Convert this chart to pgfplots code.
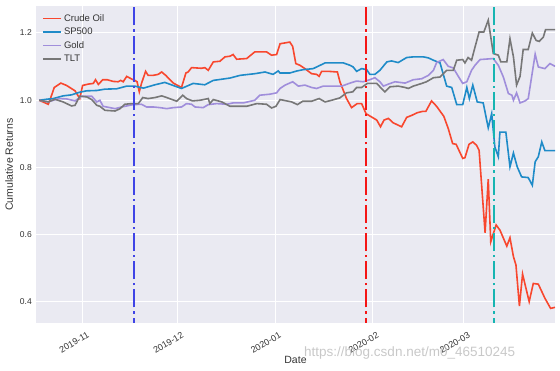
\documentclass[border=0pt]{standalone}
\usepackage{pgfplots}
\pgfplotsset{compat=1.18}
\usepackage{fontspec}
\setmainfont{Liberation Sans}
\definecolor{bgc}{HTML}{EAEAF2}
\definecolor{oilc}{HTML}{F8472E}
\definecolor{spc}{HTML}{1F8BC8}
\definecolor{goldc}{HTML}{A08EDB}
\definecolor{tltc}{HTML}{777777}
\definecolor{txtc}{HTML}{333333}
\definecolor{vblue}{HTML}{3F44E6}
\definecolor{vred}{HTML}{F51515}
\definecolor{vteal}{HTML}{17B5B2}
\begin{document}
\begin{tikzpicture}
\useasboundingbox (0,0) rectangle (560pt,371pt);
\begin{axis}[
  at={(36pt,48pt)}, anchor=south west,
  width=519pt, height=317pt, scale only axis,
  xmin=-14.9, xmax=149.9, ymin=0.3375, ymax=1.2803,
  axis background/.style={fill=bgc},
  axis line style={draw=none},
  tick style={draw=none},
  grid=major,
  major grid style={white, line width=1pt},
  xtick={0,30,61,92,121},
  xticklabels={2019-11,2019-12,2020-01,2020-02,2020-03},
  ytick={0.4,0.6,0.8,1.0,1.2},
  yticklabel={\pgfmathprintnumber[fixed,precision=1,zerofill]{\tick}},
  /pgf/number format/assume math mode=true,
  xticklabel style={rotate=30, anchor=north east, font=\fontsize{9}{10}\selectfont, text=txtc, inner sep=1pt, yshift=-8pt},
  yticklabel style={font=\fontsize{8.5}{10}\selectfont, text=txtc, inner sep=1pt, xshift=-3pt},
  every axis y label/.style={at={(axis description cs:-0.052,0.5)}, rotate=90, anchor=center, font=\fontsize{10.5}{12}\selectfont, text=txtc},
  every axis x label/.style={at={(axis description cs:0.5,-0.117)}, anchor=center, font=\fontsize{10.5}{12}\selectfont, text=txtc},
  ylabel={Cumulative Returns},
  xlabel={Date},
  legend style={at={(axis description cs:0.012,0.987)}, anchor=north west, draw=none, fill=none,
    font=\fontsize{9.5}{11}\selectfont, text=txtc, row sep=1.2pt, inner xsep=0pt, inner ysep=2pt},
  legend cell align=left,
  legend image code/.code={\draw[#1] (0pt,0pt) -- (18pt,0pt);},
  clip=true,
]
% Crude Oil
\addplot[oilc, line width=1.6pt] table {
-13.9 1.000
-11.0 0.988
-10.5 1.000
-9.1 1.038
-7.0 1.051
-5.2 1.044
-2.5 1.028
-1.0 1.005
-0.1 1.044
1.7 1.048
3.3 1.050
4.0 1.061
4.9 1.047
6.3 1.061
7.7 1.061
9.6 1.056
11.2 1.055
12.0 1.059
12.8 1.055
13.9 1.071
15.5 1.063
16.5 1.059
17.2 1.055
17.9 1.025
18.6 1.050
19.9 1.086
20.7 1.074
22.3 1.074
23.9 1.077
25.0 1.084
26.3 1.074
28.7 1.051
31.3 1.038
32.7 1.081
33.4 1.084
34.5 1.097
36.1 1.096
37.7 1.095
38.7 1.097
39.8 1.089
41.4 1.114
43.5 1.116
45.1 1.129
46.7 1.131
47.7 1.136
48.8 1.122
52.0 1.124
54.6 1.144
58.3 1.144
59.9 1.134
61.5 1.136
62.6 1.168
65.7 1.173
66.6 1.160
67.6 1.109
68.9 1.104
70.5 1.094
72.6 1.079
74.2 1.077
75.0 1.071
75.8 1.086
77.9 1.086
80.8 1.084
81.6 1.055
83.7 1.005
85.3 0.978
87.1 0.990
88.5 0.990
89.9 0.960
91.7 0.950
93.3 0.941
94.5 0.921
95.6 0.941
97.0 0.946
98.5 0.933
101.2 0.921
102.8 0.949
104.4 0.955
106.2 0.963
107.9 0.967
108.9 0.967
110.7 0.998
112.3 0.982
114.6 0.952
116.0 0.916
117.4 0.871
118.5 0.869
120.6 0.827
121.3 0.829
122.6 0.869
123.8 0.876
125.0 0.866
125.8 0.851
127.7 0.606
128.7 0.765
129.5 0.579
131.2 0.629
132.4 0.614
134.6 0.566
135.6 0.591
136.7 0.535
137.5 0.510
138.6 0.388
139.6 0.483
141.7 0.401
143.0 0.455
144.6 0.453
146.7 0.411
148.5 0.381
149.9 0.384
};
\addlegendentry{Crude Oil}
% SP500
\addplot[spc, line width=1.6pt] table {
-13.9 1.000
-11.5 1.003
-9.4 1.005
-6.3 1.013
-3.6 1.016
-1.0 1.024
1.2 1.028
4.4 1.029
7.0 1.033
10.7 1.034
13.9 1.042
16.5 1.042
19.2 1.036
22.9 1.046
26.0 1.053
31.3 1.035
35.0 1.050
38.7 1.046
41.4 1.059
46.7 1.066
49.9 1.074
54.6 1.079
57.8 1.084
58.9 1.081
60.4 1.077
62.0 1.087
62.6 1.081
65.7 1.081
67.9 1.087
70.0 1.091
73.1 1.094
76.9 1.111
80.0 1.111
82.7 1.111
84.8 1.104
85.8 1.099
86.9 1.086
88.5 1.094
90.1 1.091
91.1 1.077
92.7 1.077
94.3 1.089
96.5 1.114
98.0 1.117
100.1 1.112
102.8 1.127
104.9 1.129
108.1 1.129
109.7 1.126
111.3 1.119
113.4 1.111
115.5 1.042
117.1 1.038
118.7 0.987
120.6 0.987
121.9 1.038
122.7 1.005
123.8 1.045
125.2 0.995
127.1 0.992
128.7 0.918
129.8 0.960
130.8 0.861
131.9 0.832
132.4 0.905
134.3 0.905
135.6 0.802
136.7 0.843
137.9 0.802
139.3 0.772
141.4 0.770
142.7 0.747
143.6 0.817
144.6 0.832
145.7 0.876
146.7 0.850
149.9 0.850
};
\addlegendentry{SP500}
% Gold
\addplot[goldc, line width=1.6pt] table {
-13.9 1.000
-11.0 0.995
-7.8 1.005
-5.2 1.004
-2.5 0.998
-0.4 1.012
2.8 1.012
4.4 0.995
5.4 1.000
6.4 0.982
10.2 0.975
12.3 0.980
16.0 0.987
18.6 0.988
20.2 0.980
22.3 0.980
24.5 0.978
26.6 0.975
28.7 0.978
31.3 0.980
32.9 0.990
34.5 0.988
35.6 0.980
38.2 0.978
39.8 0.987
42.5 0.990
45.6 0.988
47.7 0.992
50.9 0.992
54.6 1.000
56.2 1.015
59.4 1.018
61.5 1.022
62.6 1.035
64.2 1.045
66.6 1.055
68.4 1.042
70.5 1.045
72.6 1.038
74.2 1.035
76.3 1.042
79.5 1.042
82.2 1.042
84.8 1.051
86.9 1.057
89.0 1.055
91.1 1.061
92.7 1.067
94.3 1.055
95.4 1.042
97.0 1.048
99.1 1.055
102.3 1.051
104.9 1.061
107.6 1.064
109.7 1.074
111.3 1.089
112.3 1.112
114.4 1.121
116.0 1.101
117.6 1.096
119.2 1.071
120.6 1.050
121.9 1.055
123.4 1.089
124.5 1.104
126.1 1.121
130.3 1.124
131.9 1.104
133.5 1.069
135.1 1.020
136.2 1.015
136.7 1.000
137.7 1.022
138.8 0.992
140.4 0.998
141.4 1.005
143.6 1.137
144.6 1.099
146.7 1.094
148.3 1.109
149.9 1.101
};
\addlegendentry{Gold}
% TLT
\addplot[tltc, line width=1.6pt] table {
-13.9 1.000
-11.0 0.995
-8.9 1.003
-6.3 0.995
-3.6 0.983
-2.5 0.985
-1.0 1.012
1.2 1.010
2.8 1.002
4.4 0.985
5.4 0.982
7.0 0.970
10.2 0.968
11.8 0.975
13.3 0.988
15.5 0.990
17.6 0.990
19.0 1.008
20.7 1.005
22.9 1.008
25.0 1.013
26.6 1.008
29.8 0.997
31.7 1.015
32.9 1.005
34.8 0.998
37.2 1.000
39.8 1.005
40.3 0.990
41.4 1.002
44.1 0.995
46.7 0.982
49.9 0.982
52.0 0.982
55.2 0.990
58.3 0.988
59.9 0.977
61.3 0.982
62.6 1.002
64.7 0.998
66.3 0.995
68.1 0.987
69.8 0.997
72.6 0.997
75.0 1.005
76.9 0.995
79.0 1.000
81.6 1.007
83.7 1.022
85.7 1.025
86.9 1.038
88.5 1.038
90.3 1.050
93.3 1.050
94.3 1.040
95.9 1.025
97.5 1.040
100.1 1.042
102.3 1.038
103.3 1.035
104.9 1.042
107.6 1.050
109.1 1.055
111.3 1.067
113.4 1.069
115.5 1.089
117.6 1.089
118.7 1.119
120.6 1.121
121.3 1.111
122.3 1.127
123.4 1.119
124.5 1.158
125.8 1.203
127.3 1.203
128.7 1.238
130.3 1.139
131.9 1.134
132.7 1.114
134.6 1.114
135.6 1.183
136.7 1.129
137.7 1.045
138.8 1.071
139.8 1.151
141.4 1.151
142.7 1.200
143.9 1.178
144.9 1.175
146.2 1.188
146.9 1.210
149.9 1.210
};
\addlegendentry{TLT}
% event lines
\addplot[vblue, line width=2.2pt, dash pattern=on 18pt off 4pt on 2.2pt off 4pt, forget plot] coordinates {(16.1,0.30) (16.1,1.30)};
\addplot[vred, line width=2.2pt, dash pattern=on 18pt off 4pt on 2.2pt off 4pt, forget plot] coordinates {(89.9,0.30) (89.9,1.30)};
\addplot[vteal, line width=2.2pt, dash pattern=on 18pt off 4pt on 2.2pt off 4pt, forget plot] coordinates {(130.5,0.30) (130.5,1.30)};
\end{axis}
\node[font=\fontsize{13.5}{15}\selectfont, text={rgb,255:red,200;green,200;blue,200}, anchor=base west, inner sep=0pt] at (304pt,14pt) {https://blog.csdn.net/m0\_46510245};
\end{tikzpicture}
\end{document}
